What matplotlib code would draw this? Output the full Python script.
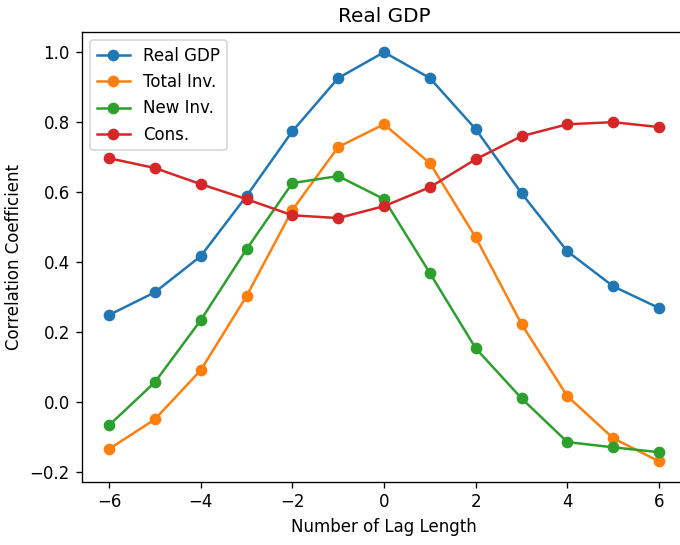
import matplotlib
matplotlib.use("Agg")
import matplotlib.pyplot as plt

lags = [-6, -5, -4, -3, -2, -1, 0, 1, 2, 3, 4, 5, 6]
real_gdp = [0.249, 0.314, 0.417, 0.589, 0.774, 0.926, 1.0, 0.926, 0.78, 0.597, 0.431, 0.331, 0.269]
total_inv = [-0.134, -0.049, 0.091, 0.303, 0.549, 0.729, 0.794, 0.683, 0.471, 0.223, 0.017, -0.103, -0.169]
new_inv = [-0.066, 0.057, 0.234, 0.437, 0.626, 0.646, 0.58, 0.369, 0.154, 0.011, -0.114, -0.129, -0.143]
cons = [0.697, 0.669, 0.623, 0.58, 0.534, 0.526, 0.56, 0.614, 0.694, 0.76, 0.794, 0.8, 0.786]

# rendered at 120 dpi so text and markers come out ~1.2x default
fig = plt.figure(figsize=(680 / 120, 545 / 120), dpi=120)
ax = fig.add_axes([0.1199, 0.116, 1.0096 - 0.1199, 0.9418 - 0.116])

ax.plot(lags, real_gdp, marker="o", label="Real GDP")
ax.plot(lags, total_inv, marker="o", label="Total Inv.")
ax.plot(lags, new_inv, marker="o", label="New Inv.")
ax.plot(lags, cons, marker="o", label="Cons.")

ax.set_title("Real GDP")
ax.set_xlabel("Number of Lag Length")
ax.set_ylabel("Correlation Coefficient")
ax.legend(loc="upper left")

fig.savefig("out.png", dpi=120)
